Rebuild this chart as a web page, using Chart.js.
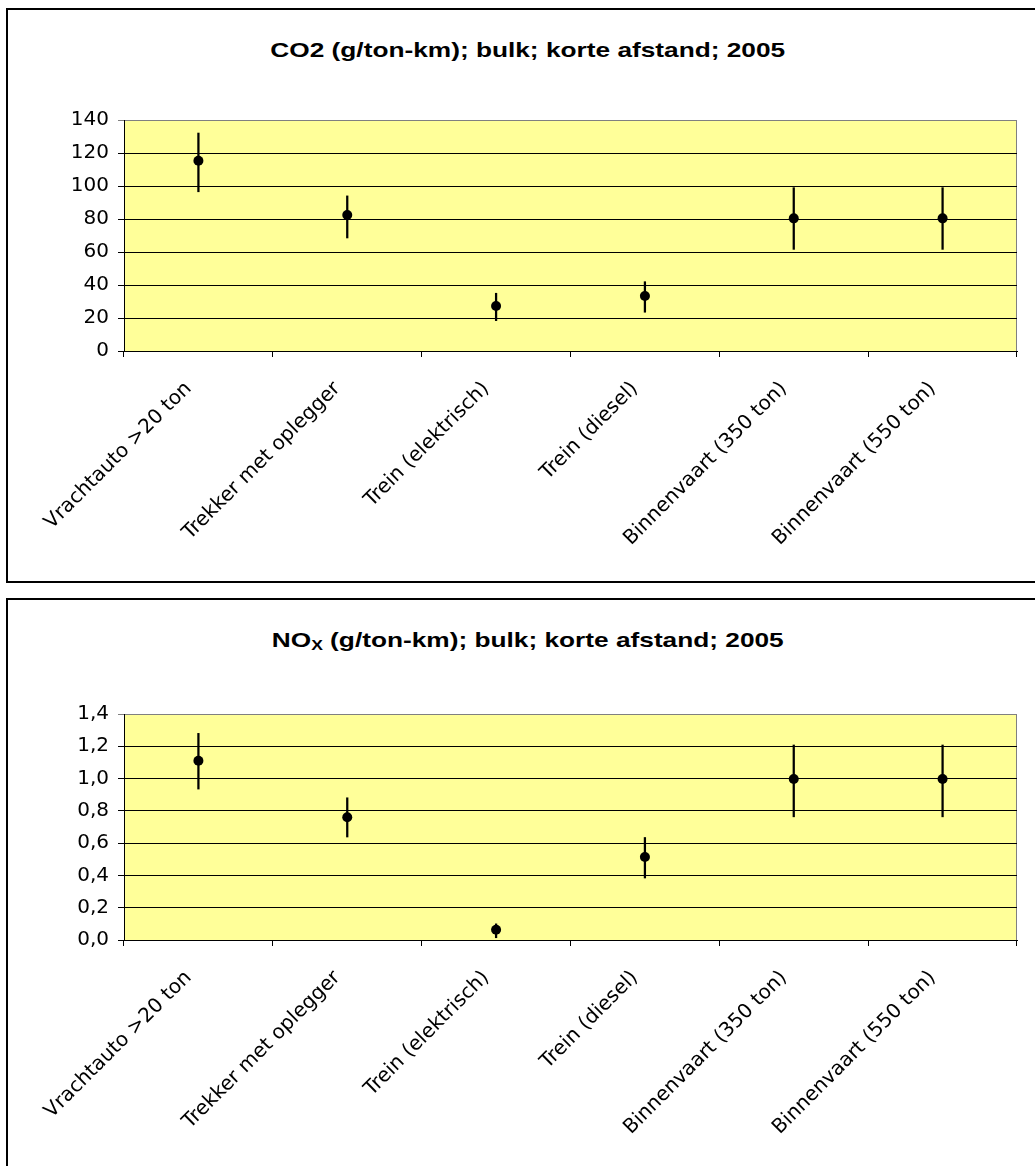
<!DOCTYPE html>
<html>
<head>
<meta charset="utf-8">
<script src="https://cdn.jsdelivr.net/npm/chart.js@4/dist/chart.umd.min.js"></script>
<style>
  body { margin: 0; background: #fff; overflow: hidden; width: 1035px; height: 1166px; position: relative; }
  .box { position: absolute; left: 6px; border: 2px solid #000; background: #fff; width: 1040px; }
  .box canvas { position: absolute; left: 0; top: 0; }
  .title {
    position: absolute; left: 0; width: 1040px; text-align: center;
    font-family: "Liberation Sans", Arial, sans-serif; font-weight: bold; font-size: 21px;
    line-height: 24px; color: #000; transform: scaleX(1.25); transform-origin: 521px 0;
  }
  .title sub { font-size: 14px; vertical-align: -3px; }
</style>
</head>
<body>
<div class="box" id="box1" style="top:8px;height:571px;">
  <div class="title" style="top:28px;">CO2 (g/ton-km); bulk; korte afstand; 2005</div>
  <canvas id="co2Chart" width="1027" height="571"></canvas>
</div>
<div class="box" id="box2" style="top:598px;height:600px;">
  <div class="title" style="top:28px;">NO<sub>X</sub> (g/ton-km); bulk; korte afstand; 2005</div>
  <canvas id="noxChart" width="1027" height="566"></canvas>
</div>
<script>
const categories = [
  "Vrachtauto >20 ton",
  "Trekker met oplegger",
  "Trein (elektrisch)",
  "Trein (diesel)",
  "Binnenvaart (350 ton)",
  "Binnenvaart (550 ton)"
];

// CO2 g/ton-km
const co2Values = [115.3, 82.4, 27.3, 33.3, 80.4, 80.4];
const co2Low = [96.5, 68.5, 18.4, 23.5, 61.6, 61.6];
const co2High = [132.1, 94.0, 35.0, 42.0, 99.0, 99.0];
const co2Ticks = ["0", "20", "40", "60", "80", "100", "120", "140"];

// NOx g/ton-km
const noxValues = [1.11, 0.76, 0.063, 0.514, 0.997, 0.997];
const noxLow = [0.935, 0.638, 0.014, 0.384, 0.763, 0.763];
const noxHigh = [1.28, 0.881, 0.10, 0.635, 1.208, 1.208];
const noxTicks = ["0,0", "0,2", "0,4", "0,6", "0,8", "1,0", "1,2", "1,4"];

const plotBg = {
  id: "plotBg",
  beforeDraw(chart) {
    const { ctx, chartArea: a } = chart;
    ctx.save();
    ctx.fillStyle = "#FFFF99";
    ctx.fillRect(a.left, a.top, a.right - a.left, a.bottom - a.top);
    ctx.strokeStyle = "#808080";
    ctx.lineWidth = 1;
    ctx.strokeRect(a.left + 0.5, a.top + 0.5, a.right - a.left - 1, a.bottom - a.top);
    ctx.restore();
  }
};

function drawChart(canvasId, values, low, high, tickLabels, yMax, yStep, padTop, xHeight) {
  const ctx = document.getElementById(canvasId).getContext("2d");
  return new Chart(ctx, {
    type: "bar",
    data: {
      labels: categories,
      datasets: [
        {
          type: "line",
          data: values,
          showLine: false,
          pointRadius: 5,
          pointBackgroundColor: "#000",
          pointBorderWidth: 0,
          order: 0
        },
        {
          type: "bar",
          data: low.map((l, i) => [l, high[i]]),
          backgroundColor: "#000",
          borderWidth: 0,
          barThickness: 1.6,
          order: 1
        }
      ]
    },
    options: {
      responsive: false,
      animation: false,
      layout: { padding: { top: padTop, right: 18, left: 0, bottom: 0 } },
      plugins: {
        legend: { display: false },
        tooltip: { enabled: false }
      },
      scales: {
        x: {
          offset: true,
          grid: { offset: true, drawOnChartArea: false, drawTicks: true, tickLength: 6, color: "#000" },
          border: { color: "#000", width: 1 },
          ticks: {
            minRotation: 45, maxRotation: 45, autoSkip: false, padding: 20, labelOffset: -10,
            color: "#000", font: { family: "DejaVu Sans", size: 20 }
          },
          afterFit(scale) { scale.height = xHeight; }
        },
        y: {
          min: 0, max: yMax,
          grid: {
            color: c => (c.tick && c.tick.value >= yMax - 1e-9) ? "#808080" : "#000",
            lineWidth: 1, drawTicks: true, tickLength: 6
          },
          border: { color: "#000", width: 1 },
          ticks: {
            stepSize: yStep, padding: 9, color: "#000",
            font: { family: "DejaVu Sans", size: 20 },
            callback: (v, i) => tickLabels[i]
          },
          afterFit(scale) { scale.width = 116; }
        }
      }
    },
    plugins: [plotBg]
  });
}

drawChart("co2Chart", co2Values, co2Low, co2High, co2Ticks, 140, 20, 110, 230);
drawChart("noxChart", noxValues, noxLow, noxHigh, noxTicks, 1.4, 0.2, 114, 226);
</script>
</body>
</html>
